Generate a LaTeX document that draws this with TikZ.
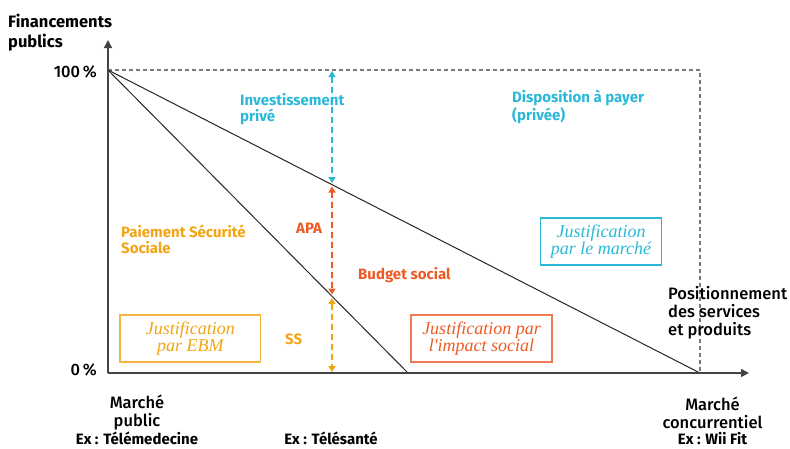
\documentclass[tikz,border=0pt]{standalone}
\usepackage{fontspec}
\setmainfont{Fira Sans}
\IfFontExistsTF{Fira Sans Medium}{\newfontfamily\medfont{Fira Sans Medium}}{\newfontfamily\medfont{Fira Sans}}
\newfontfamily\jfont{Liberation Serif}
\usetikzlibrary{arrows.meta}
\definecolor{cyanc}{HTML}{2BB8D8}
\definecolor{redc}{HTML}{EE5A24}
\definecolor{ambc}{HTML}{F2A414}
\definecolor{ambbox}{HTML}{F5B540}
\definecolor{redbox}{HTML}{F07A52}
\definecolor{axisc}{HTML}{444444}
\definecolor{dashc}{HTML}{7A7A7A}
\tikzset{
  lbl/.style={inner sep=0pt, font=\bfseries\fontsize{15}{16}\selectfont, align=left, anchor=base west},
  axlbl/.style={inner sep=0pt, font=\medfont\fontsize{16.5}{17.5}\selectfont, align=center, anchor=base},
  exlbl/.style={inner sep=0pt, font=\bfseries\fontsize{15}{17}\selectfont, anchor=base},
  jbox/.style={draw, line width=1.2pt, inner sep=0pt, minimum height=47pt,
     font=\jfont\itshape\fontsize{18}{17}\selectfont, align=center},
  diag/.style={line width=1pt, draw=black!85},
  axisline/.style={line width=1.6pt, draw=axisc, -{Triangle[length=8pt,width=8pt]}},
  grid dash/.style={line width=1.4pt, draw=dashc, dash pattern=on 4pt off 3pt},
  varrow/.style={line width=2pt, dash pattern=on 6pt off 4pt,
     {Triangle[length=6pt,width=7pt]}-{Triangle[length=6pt,width=7pt]}}
}
\begin{document}
\begin{tikzpicture}[x=1pt,y=-1pt]
\useasboundingbox (0,0) rectangle (790,448);
% key points
\coordinate (O) at (108,373);
\coordinate (T) at (108,70);
\coordinate (Ytip) at (108,40);
\coordinate (Xtip) at (749,373);
\coordinate (TR) at (700,70);
\coordinate (X1) at (700,373);
\coordinate (X2) at (408,373);
\coordinate (A0) at (332,71);
\coordinate (A1) at (332,183);
\coordinate (B0) at (332,186.5);
\coordinate (B1) at (332,294.5);
\coordinate (C0) at (332,298);
\coordinate (C1) at (332,372);
% dashed frame
\draw[grid dash] (T) -- (TR) -- (X1);
% diagonals
\draw[diag] (T) -- (X1);
\draw[diag] (T) -- (X2);
% axes
\draw[axisline] (O) -- (Ytip);
\draw[axisline] (O) -- (Xtip);
% vertical arrows
\draw[varrow, draw=cyanc, fill=cyanc] (A0) -- (A1);
\draw[varrow, draw=redc, fill=redc] (B0) -- (B1);
\draw[varrow, draw=ambc, fill=ambc] (C0) -- (C1);
% axis labels
\node[lbl, text=black, font=\bfseries\fontsize{16.5}{20}\selectfont] (fin) at (8,47) {Financements\\publics};
\node[inner sep=0pt, anchor=base east, font=\medfont\fontsize{16.5}{17}\selectfont] (p100) at (97,77) {100\,\%};
\node[inner sep=0pt, anchor=base east, font=\medfont\fontsize{16.5}{17}\selectfont] (p0) at (97,375) {0\,\%};
% coloured labels
\node[lbl, text=cyanc] (inv) at (240,121) {Investissement\\privé};
\node[lbl, text=cyanc] (disp) at (512,120) {Disposition à payer\\(privée)};
\node[lbl, text=ambc] (pss) at (121,253) {Paiement Sécurité\\Sociale};
\node[lbl, text=redc] (apa) at (296,233) {APA};
\node[lbl, text=redc] (bud) at (358,279) {Budget social};
\node[lbl, text=ambc] (ss) at (285,344) {SS};
% boxes
\node[jbox, draw=ambbox, text=ambc, minimum width=140.7pt] (ebm) at (190.3,338.5) {Justification\\par EBM};
\node[jbox, draw=redbox, text=redc, minimum width=141pt] (imp) at (481.5,338.4) {Justification par\\l'impact social};
\node[jbox, draw=cyanc, text=cyanc, minimum width=121.7pt] (mar) at (601,241.5) {Justification\\par le marché};
% right label
\node[inner sep=0pt, anchor=base west, align=left, font=\medfont\fontsize{16.5}{18}\selectfont] (pos) at (668,335) {Positionnement\\des services\\et produits};
% bottom labels
\node[axlbl] (mp) at (137,426) {Marché\\public};
\node[exlbl] (ex1) at (137,444) {Ex : Télémedecine};
\node[exlbl] (ex2) at (331,444) {Ex : Télésanté};
\node[axlbl] (mc) at (712.5,428) {Marché\\concurrentiel};
\node[exlbl] (ex3) at (712.5,444) {Ex : Wii Fit};
\end{tikzpicture}
\end{document}
